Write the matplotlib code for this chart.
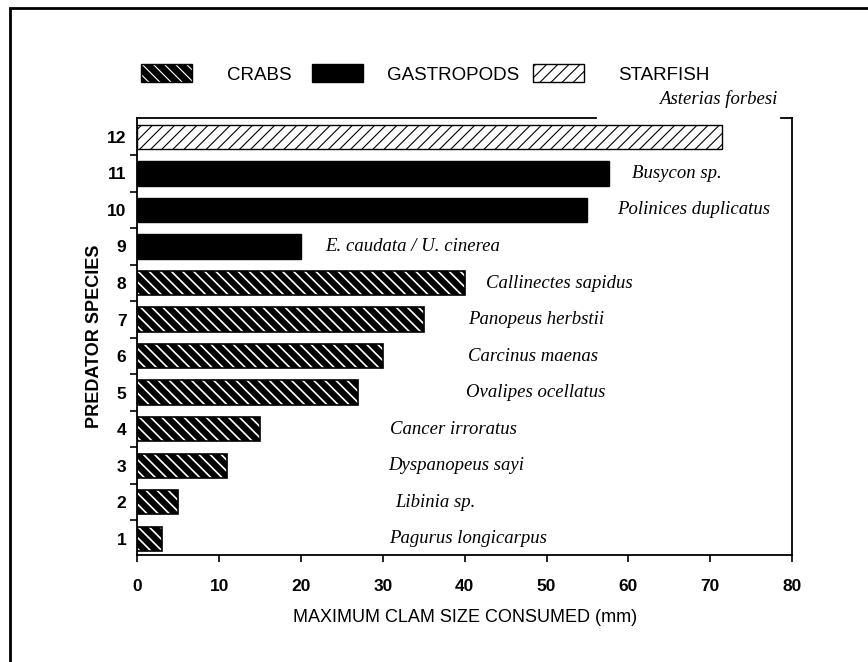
import matplotlib
matplotlib.use('Agg')
import matplotlib.pyplot as plt
from matplotlib.patches import Patch, Rectangle
from matplotlib.legend_handler import HandlerTuple

# data
predator = [1, 2, 3, 4, 5, 6, 7, 8, 9, 10, 11, 12]
max_size = [3, 5, 11, 15, 27, 30, 35, 40, 20, 55, 57.6, 71.4]
group = ['CRABS'] * 8 + ['GASTROPODS'] * 3 + ['STARFISH']
species = ['Pagurus longicarpus', 'Libinia sp.', 'Dyspanopeus sayi', 'Cancer irroratus',
           'Ovalipes ocellatus', 'Carcinus maenas', 'Panopeus herbstii', 'Callinectes sapidus',
           'E. caudata / U. cinerea', 'Polinices duplicatus', 'Busycon sp.', 'Asterias forbesi']
# where the species names sit (x in mm)
label_x = [30.7, 31.5, 30.6, 30.9, 40.2, 40.4, 40.4, 42.6, 23.0, 58.6, 60.4, 63.8]
label_y = [1, 2, 3, 4, 5, 6, 7, 8, 9, 10, 11, 13.05]

sans = ['Liberation Sans', 'DejaVu Sans']
serif = ['Liberation Serif', 'DejaVu Serif']

fig = plt.figure(figsize=(8.68, 6.62), dpi=100)
ax = fig.add_axes([0.1584, 0.1616, 0.9124 - 0.1584, 0.8218 - 0.1616])

crab_y = [p for p, g in zip(predator, group) if g == 'CRABS']
crab_v = [v for v, g in zip(max_size, group) if g == 'CRABS']
gas_y = [p for p, g in zip(predator, group) if g == 'GASTROPODS']
gas_v = [v for v, g in zip(max_size, group) if g == 'GASTROPODS']
star_y = [p for p, g in zip(predator, group) if g == 'STARFISH']
star_v = [v for v, g in zip(max_size, group) if g == 'STARFISH']

h = 0.66
crab_hatch = '\\\\\\'
star_hatch = '///'
plt.rcParams['hatch.linewidth'] = 1.2
crabs = ax.barh(crab_y, crab_v, height=h, color='black', edgecolor='white', hatch=crab_hatch, linewidth=0)
for b in crabs:
    if hasattr(b, 'set_hatch_linewidth'):
        b.set_hatch_linewidth(1.2)
ax.barh(crab_y, crab_v, height=h, fill=False, edgecolor='black', linewidth=1.2)
ax.barh(gas_y, gas_v, height=h, color='black', edgecolor='black', linewidth=1)
plt.rcParams['hatch.linewidth'] = 0.8
stars = ax.barh(star_y, star_v, height=h, color='white', edgecolor='black', hatch=star_hatch, linewidth=1)
for b in stars:
    if hasattr(b, 'set_hatch_linewidth'):
        b.set_hatch_linewidth(0.8)

for name, x, y in zip(species, label_x, label_y):
    ax.text(x, y, name, fontsize=13.5, style='italic', family=serif, va='center', ha='left')

ax.set_xlim(0, 80)
ax.set_ylim(0.55, 12.52)
ax.set_xticks(range(0, 81, 10))
ax.set_yticks(predator)
ax.set_yticks([p + 0.5 for p in predator[:-1]], minor=True)
ax.tick_params(axis='y', which='major', length=0, pad=8)
ax.tick_params(axis='y', which='minor', length=5, width=1.2, direction='out')
ax.tick_params(axis='x', length=5, width=1.2, direction='out', pad=12)
for t in ax.get_xticklabels() + ax.get_yticklabels():
    t.set_fontfamily(sans)
    t.set_fontweight('bold')
    t.set_fontsize(12.5)

ax.set_xlabel('MAXIMUM CLAM SIZE CONSUMED (mm)', fontsize=13, family=sans, labelpad=11)
ax.set_ylabel('PREDATOR SPECIES', fontsize=13, family=sans, fontweight='bold', labelpad=3)

ax.spines['top'].set_visible(False)
for s in ['left', 'bottom', 'right']:
    ax.spines[s].set_linewidth(1.3)
ax.plot([0, 0.70], [1, 1], transform=ax.transAxes, color='black', lw=1.3, clip_on=False)
ax.plot([0.983, 1], [1, 1], transform=ax.transAxes, color='black', lw=1.3, clip_on=False)

# legend: one entry per group, each placed like the original
h_crab = (Patch(facecolor='black', edgecolor='white', hatch=crab_hatch, linewidth=0),
          Patch(fill=False, edgecolor='black', linewidth=1))
h_gas = Patch(facecolor='black', edgecolor='black')
h_star = Patch(facecolor='white', edgecolor='black', hatch=star_hatch, linewidth=1)
entries = [(h_crab, 'CRABS', 141, 1.9), (h_gas, 'GASTROPODS', 312, 1.3), (h_star, 'STARFISH', 533, 1.85)]
for handle, lab, px, tpad in entries:
    fig.legend([handle], [lab], handler_map={tuple: HandlerTuple(ndivide=1, pad=0)},
               loc='center left', bbox_to_anchor=(px / 868, 1 - 74 / 662),
               frameon=False, prop={'family': sans, 'size': 13.5},
               handlelength=2.7, handleheight=1.05, handletextpad=tpad,
               borderpad=0, borderaxespad=0)

# outer frame of the scanned page
fig.add_artist(Rectangle((10 / 868, -0.2), 1.5, 1.2 - 8 / 662, transform=fig.transFigure,
                         fill=False, edgecolor='black', linewidth=2))

fig.savefig('out.png', dpi=100)
